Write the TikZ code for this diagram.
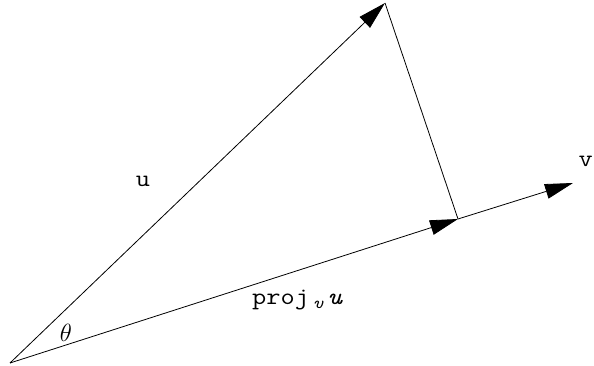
\documentclass[tikz,border=0pt]{standalone}
\usepackage{fontspec}
\setmonofont{Latin Modern Mono}[FakeStretch=1.15]
\usetikzlibrary{arrows.meta}
\begin{document}
\begin{tikzpicture}[x=1pt,y=1pt,>={Triangle[length=28pt,width=15pt]},
  vec/.style={line width=0.8pt},
  lbl/.style={font=\fontsize{24}{28}\selectfont\ttfamily}]
\useasboundingbox (0,0) rectangle (594,366);
\coordinate (O) at (10,3);
\coordinate (U) at (385,363);
\coordinate (P) at (458,147);
\coordinate (V) at (573,183);
\draw[vec,->] (O) -- (U);
\draw[vec,->] (O) -- (P);
\draw[vec,->] (P) -- (V);
\draw[vec] (U) -- (P);
\node[lbl] (ulbl) at (143,185) {u};
\node[lbl,anchor=east,inner sep=0pt] (vlbl) at (593,205) {v};
\node[lbl,anchor=base west,inner sep=0pt] (projlbl) at (252,61)
  {proj\,\raisebox{-4pt}{\fontsize{17}{20}\selectfont\textit{v}}\,\textit{u}};
\node[font=\fontsize{27}{30}\selectfont] (theta) at (66,33) {$\theta$};
\end{tikzpicture}
\end{document}
